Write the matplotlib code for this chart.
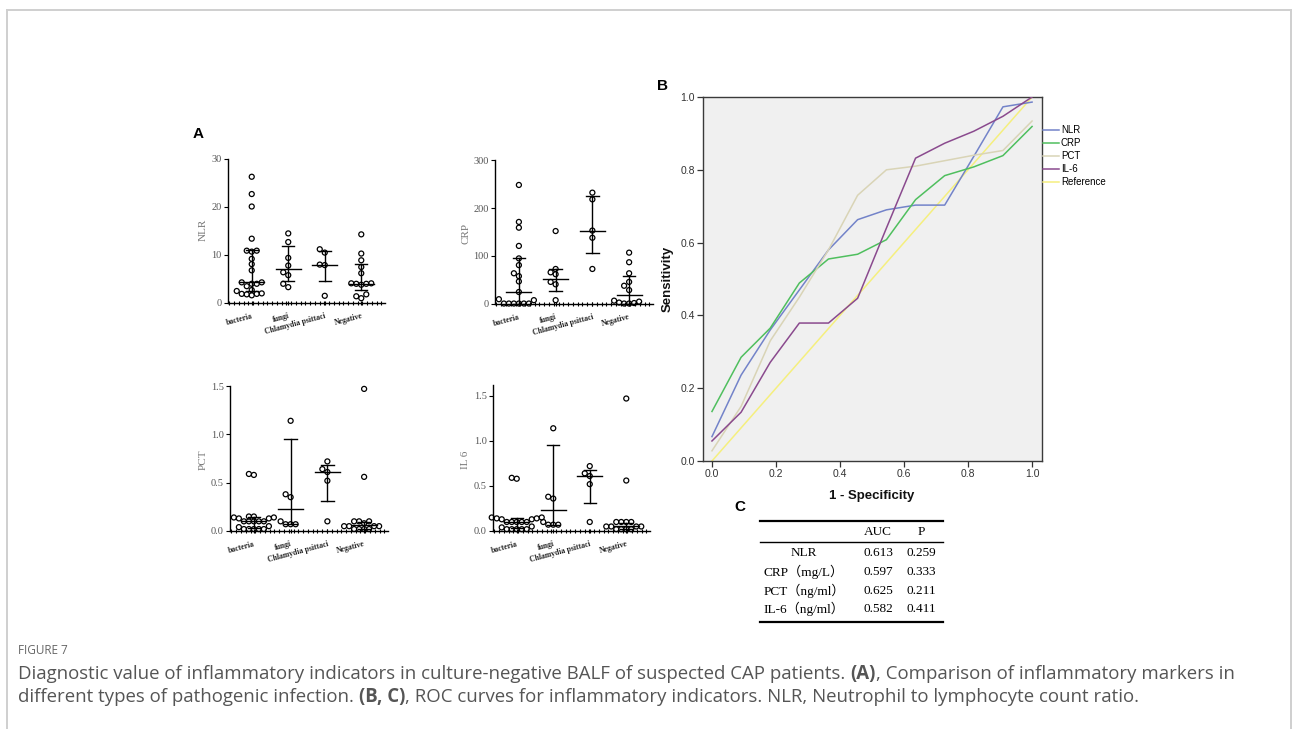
import matplotlib
matplotlib.use('Agg')
import matplotlib.pyplot as plt
import numpy as np
from matplotlib.ticker import MultipleLocator, FixedLocator
from matplotlib.lines import Line2D

# ---------------- data ----------------
categories = ['bacteria', 'fungi', 'Chlamydia psittaci', 'Negative']

nlr_bacteria = [26.3, 22.7, 20.1, 13.4, 10.9, 10.9, 10.7, 9.2, 8.1, 6.8, 4.3, 4.3, 4.0, 4.0,
                3.5, 2.7, 2.5, 2.0, 1.9, 1.9, 1.8, 1.6]
nlr_fungi = [14.5, 12.7, 9.4, 7.8, 6.4, 5.8, 4.0, 3.3]
nlr_chlamydia = [11.2, 10.5, 8.0, 7.9, 1.5]
nlr_negative = [14.3, 10.3, 8.9, 7.5, 6.2, 4.1, 4.0, 4.0, 4.1, 3.8, 1.8, 1.4, 1.0]
nlr_median = [4.4, 7.1, 8.0, 3.9]
nlr_q1 = [2.4, 4.5, 4.5, 2.7]
nlr_q3 = [11.0, 11.8, 10.9, 8.2]

crp_bacteria = [248, 171, 159, 121, 95, 81, 64, 58, 47, 25, 10, 8, 1, 1, 1, 1, 1, 1]
crp_fungi = [152, 73, 66, 62, 46, 41, 8]
crp_chlamydia = [232, 218, 153, 138, 73]
crp_negative = [107, 87, 64, 46, 38, 29, 7, 5, 3, 2, 1, 1]
crp_median = [25, 53, 153, 18]
crp_q1 = [1, 28, 106, 1]
crp_q3 = [95, 72, 224, 59]

pct_bacteria = [0.59, 0.58, 0.15, 0.15, 0.14, 0.14, 0.13, 0.13, 0.10, 0.10, 0.10, 0.10, 0.10,
                0.05, 0.04, 0.02, 0.02, 0.02, 0.02, 0.02]
pct_fungi = [1.14, 0.38, 0.35, 0.10, 0.07, 0.07, 0.07]
pct_chlamydia = [0.72, 0.64, 0.61, 0.52, 0.10]
pct_negative = [1.47, 0.56, 0.10, 0.10, 0.10, 0.08, 0.05, 0.05, 0.05, 0.05, 0.02, 0.02, 0.02, 0.02]
pct_median = [0.10, 0.23, 0.61, 0.06]
pct_q1 = [0.03, 0.07, 0.31, 0.02]
pct_q3 = [0.14, 0.95, 0.68, 0.09]

il6_bacteria = [0.59, 0.58, 0.15, 0.15, 0.14, 0.14, 0.13, 0.13, 0.10, 0.10, 0.10, 0.10, 0.10,
                0.05, 0.04, 0.02, 0.02, 0.02, 0.02, 0.02]
il6_fungi = [1.14, 0.38, 0.36, 0.10, 0.07, 0.07, 0.07]
il6_chlamydia = [0.72, 0.64, 0.61, 0.52, 0.10]
il6_negative = [1.47, 0.56, 0.10, 0.10, 0.10, 0.10, 0.05, 0.05, 0.05, 0.05, 0.02, 0.02, 0.02, 0.02]
il6_median = [0.10, 0.23, 0.61, 0.06]
il6_q1 = [0.03, 0.07, 0.31, 0.02]
il6_q3 = [0.14, 0.95, 0.68, 0.09]

roc_fpr = [0.0, 0.091, 0.182, 0.273, 0.364, 0.455, 0.545, 0.636, 0.727, 0.818, 0.909, 1.0]
roc_nlr = [0.067, 0.236, 0.36, 0.47, 0.58, 0.663, 0.69, 0.703, 0.703, 0.837, 0.973, 0.986]
roc_crp = [0.136, 0.285, 0.365, 0.489, 0.555, 0.568, 0.608, 0.718, 0.784, 0.808, 0.839, 0.919]
roc_pct = [0.028, 0.15, 0.33, 0.45, 0.58, 0.73, 0.80, 0.81, 0.825, 0.84, 0.853, 0.934]
roc_il6 = [0.055, 0.134, 0.271, 0.379, 0.379, 0.447, 0.64, 0.832, 0.873, 0.906, 0.947, 1.0]
ref_x = [0.0, 1.0]
ref_y = [0.0, 1.0]
roc_labels = ['NLR', 'CRP', 'PCT', 'IL-6', 'Reference']

table_header = ['AUC', 'P']
table_rows = ['NLR', 'CRP（mg/L）', 'PCT（ng/ml）', 'IL-6（ng/ml）']
table_auc = ['0.613', '0.597', '0.625', '0.582']
table_p = ['0.259', '0.333', '0.211', '0.411']

# ---------------- figure ----------------
W, H = 1292, 729
fig = plt.figure(figsize=(W / 100, H / 100), dpi=100)
fig.patch.set_facecolor('white')


def fx(x):
    return x / W


def fy(y):
    return 1 - y / H


SERIF = ['Liberation Serif', 'DejaVu Serif']
SANS = ['Liberation Sans', 'DejaVu Sans']

# frame
for xs, ys in [([6.5, 6.5], [9.5, 729]), ([6.5, 1290.5], [9.5, 9.5]), ([1290.5, 1290.5], [9.5, 729])]:
    fig.add_artist(Line2D([fx(v) for v in xs], [fy(v) for v in ys], transform=fig.transFigure,
                          color='#cfcfcf', lw=1.4))


def swarm_x(ax, xc, vals, dpx=5.0):
    vals = np.asarray(vals, float)
    pts = ax.transData.transform(np.column_stack([np.full(len(vals), xc), vals]))
    ys = pts[:, 1]
    x0 = pts[0, 0]
    order = np.argsort(ys)
    placed = []
    offs = np.zeros(len(vals))
    cands = [0]
    for j in range(1, 30):
        cands += [-j, j]
    for i in order:
        for c in cands:
            xo = c * dpx
            ok = all((xo - a) ** 2 + (ys[i] - b) ** 2 >= (dpx * 0.95) ** 2 for a, b in placed)
            if ok:
                break
        placed.append((xo, ys[i]))
        offs[i] = xo
    back = ax.transData.inverted().transform(np.column_stack([x0 + offs, ys]))
    return back[:, 0]


def scatter_panel(rect, groups, med, q1, q3, ylim, yticks, yticklabels, ylabel, ylabel_pos):
    left, top, right, bottom, ytop = rect
    ax = fig.add_axes([fx(left), fy(bottom), (right - left) / W, (bottom - top) / H])
    ax.set_xlim(0.35, 4.65)
    ax.set_ylim(*ylim)
    ax.patch.set_alpha(0)
    ax.spines['top'].set_visible(False)
    ax.spines['right'].set_visible(False)
    ax.spines['left'].set_linewidth(1.0)
    ax.spines['bottom'].set_linewidth(1.0)
    ax.spines['left'].set_bounds(ylim[0], ytop)
    ax.yaxis.set_major_locator(FixedLocator(yticks))
    ax.set_yticklabels(yticklabels, fontfamily=SERIF, fontsize=7.5, color='#555555')
    ax.tick_params(axis='y', direction='out', length=3, width=0.8, pad=1.5)
    ax.set_xticks([1, 2, 3, 4])
    ax.set_xticklabels(categories, rotation=15, ha='right', va='top', rotation_mode='anchor',
                       fontfamily=SERIF, fontsize=5.6, fontweight='bold', color='#222222')
    ax.xaxis.set_minor_locator(MultipleLocator(0.13))
    ax.tick_params(axis='x', which='both', direction='inout', length=2.6, width=0.8, pad=5)
    for k, vals in enumerate(groups):
        xs = swarm_x(ax, k + 1, vals)
        ax.scatter(xs, vals, s=13, facecolors='none', edgecolors='black', linewidths=0.9,
                   zorder=3, clip_on=False)
        xc = k + 1
        ax.plot([xc, xc], [q1[k], q3[k]], color='black', lw=1.0, zorder=2, clip_on=False)
        for v in (q1[k], q3[k]):
            ax.plot([xc - 0.17, xc + 0.17], [v, v], color='black', lw=1.0, zorder=2, clip_on=False)
        ax.plot([xc - 0.34, xc + 0.34], [med[k], med[k]], color='black', lw=1.0, zorder=2,
                clip_on=False)
    fig.text(fx(ylabel_pos[0]), fy(ylabel_pos[1]), ylabel, rotation=90, ha='center', va='center',
             fontfamily=SERIF, fontsize=8, color='#777777')
    return ax


scatter_panel((228, 159, 385, 303, 30), [nlr_bacteria, nlr_fungi, nlr_chlamydia, nlr_negative],
              nlr_median, nlr_q1, nlr_q3, (0, 30), [0, 10, 20, 30], ['0', '10', '20', '30'],
              'NLR', (203, 230))
scatter_panel((495, 160, 653, 304, 300), [crp_bacteria, crp_fungi, crp_chlamydia, crp_negative],
              crp_median, crp_q1, crp_q3, (0, 300), [0, 100, 200, 300], ['0', '100', '200', '300'],
              'CRP', (466, 233))
scatter_panel((230, 386, 388, 531, 1.5), [pct_bacteria, pct_fungi, pct_chlamydia, pct_negative],
              pct_median, pct_q1, pct_q3, (0, 1.5), [0, 0.5, 1.0, 1.5], ['0.0', '0.5', '1.0', '1.5'],
              'PCT', (203, 460))
scatter_panel((493, 385, 650, 531, 1.62), [il6_bacteria, il6_fungi, il6_chlamydia, il6_negative],
              il6_median, il6_q1, il6_q3, (0, 1.62), [0, 0.5, 1.0, 1.5], ['0.0', '0.5', '1.0', '1.5'],
              'IL 6', (466, 460))

# panel letters
for letter, (x, y) in {'A': (198, 134), 'B': (663, 86), 'C': (740, 507)}.items():
    fig.text(fx(x), fy(y), letter, ha='center', va='center', fontfamily=SANS, fontweight='bold',
             fontsize=11, color='black')

# ---------------- ROC panel ----------------
axB = fig.add_axes([fx(703), fy(461), 339 / W, 364 / H])
axB.set_facecolor('#f0f0f0')
axB.set_xlim(-0.028, 1.031)
axB.set_ylim(0, 1)
colors = ['#7383c9', '#4fbf5e', '#d9d4b6', '#8a4a8e', '#f5ef7e']
series = [roc_nlr, roc_crp, roc_pct, roc_il6]
handles = []
for tpr, col, lab in zip(series, colors[:4], roc_labels[:4]):
    h, = axB.plot(roc_fpr, tpr, color=col, lw=1.1, label=lab, zorder=3)
    handles.append(h)
h, = axB.plot(ref_x, ref_y, color=colors[4], lw=1.1, label=roc_labels[4], zorder=2)
handles.append(h)
for s in axB.spines.values():
    s.set_color('#3a3a3a')
    s.set_linewidth(1.0)
ticks = [0.0, 0.2, 0.4, 0.6, 0.8, 1.0]
axB.set_xticks(ticks)
axB.set_yticks(ticks)
axB.set_xticklabels(['%.1f' % t for t in ticks], fontfamily=SANS, fontsize=7.5, color='#333333')
axB.set_yticklabels(['%.1f' % t for t in ticks], fontfamily=SANS, fontsize=7.5, color='#333333')
axB.tick_params(direction='out', length=4, width=0.9, color='#333333', pad=2)
fig.text(fx(668), fy(279), 'Sensitivity', rotation=90, ha='center', va='center',
         fontfamily=SANS, fontweight='bold', fontsize=9.5, color='#111111')
fig.text(fx(872), fy(496), '1 - Specificity', ha='center', va='center',
         fontfamily=SANS, fontweight='bold', fontsize=9.5, color='#111111')
fig.legend(handles, roc_labels, loc='upper left', bbox_to_anchor=(fx(1043), fy(125)),
           frameon=False, prop={'family': SANS, 'size': 7}, handlelength=1.6,
           handletextpad=0.25, labelspacing=0.32, borderpad=0, borderaxespad=0)

# ---------------- table C ----------------
TAB = ['Liberation Serif', 'Noto Sans CJK SC']
for y, lw in [(521, 1.6), (542, 1.0), (622, 1.6)]:
    fig.add_artist(Line2D([fx(760), fx(943)], [fy(y), fy(y)], transform=fig.transFigure,
                          color='black', lw=lw))
fig.text(fx(878), fy(532), table_header[0], ha='center', va='center', fontfamily=TAB, fontsize=9.5)
fig.text(fx(921), fy(532), table_header[1], ha='center', va='center', fontfamily=TAB, fontsize=9.5)
row_y = [553, 572, 591, 609]
for r, a, p, y in zip(table_rows, table_auc, table_p, row_y):
    fig.text(fx(804), fy(y), r, ha='center', va='center', fontfamily=TAB, fontsize=9.5)
    fig.text(fx(878), fy(y), a, ha='center', va='center', fontfamily=TAB, fontsize=9.5)
    fig.text(fx(921), fy(y), p, ha='center', va='center', fontfamily=TAB, fontsize=9.5)

# ---------------- caption ----------------
CAP = ['Open Sans', 'DejaVu Sans']
fig.text(fx(18), fy(650), 'FIGURE 7', ha='left', va='center', fontfamily=CAP, fontsize=8.5,
         color='#666666')

renderer = fig.canvas.get_renderer()


def adv(text, weight, size):
    t1 = fig.text(0, 0, 'x' + text + 'x', fontfamily=CAP, fontweight=weight, fontsize=size)
    t2 = fig.text(0, 0, 'xx', fontfamily=CAP, fontweight=weight, fontsize=size)
    w = t1.get_window_extent(renderer).width - t2.get_window_extent(renderer).width
    t1.remove()
    t2.remove()
    return w


line1 = [('Diagnostic value of inflammatory indicators in culture-negative BALF of suspected CAP patients. ', 'normal'),
         ('(A)', 'bold'), (', Comparison of inflammatory markers in', 'normal')]
line2 = [('different types of pathogenic infection. ', 'normal'), ('(B, C)', 'bold'),
         (', ROC curves for inflammatory indicators. NLR, Neutrophil to lymphocyte count ratio.', 'normal')]

base = 12
w1 = sum(adv(t, wt, base) for t, wt in line1)
size = base * (1210 / w1)
for runs, y in [(line1, 674), (line2, 697)]:
    x = 18
    for t, wt in runs:
        fig.text(fx(x), fy(y), t, ha='left', va='center', fontfamily=CAP, fontweight=wt,
                 fontsize=size, color='#555555')
        x += adv(t, wt, size)

fig.savefig('out.png', dpi=100)
